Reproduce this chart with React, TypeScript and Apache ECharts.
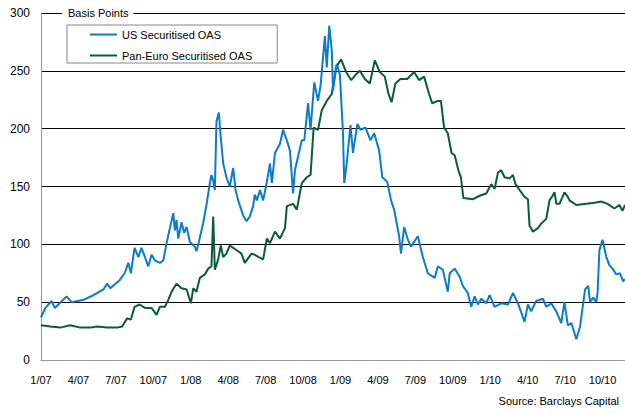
import React, { useEffect, useRef } from "react";
import * as echarts from "echarts";

// x positions: months since Jan 2007
const usMonths = [
  0, 0.35, 0.85, 1.1, 1.5, 2.05, 2.45, 3.4, 4.2, 5.0, 5.3, 5.55, 6.3, 6.7, 7.0, 7.2, 7.5, 7.8, 8.05,
  8.33, 8.6, 8.86, 9.13, 9.53, 9.8, 10.06, 10.33, 10.6, 10.73, 10.86, 11.0, 11.26, 11.47, 11.67, 11.93,
  12.33, 12.46, 12.65, 12.99, 13.26, 13.53, 13.66, 13.8, 13.93, 14.06, 14.25, 14.4, 14.6, 14.86, 15.13,
  15.4, 15.59, 15.8, 16.2, 16.47, 16.73, 17.0, 17.13,
  17.3, 17.55, 17.8, 18.1, 18.35, 18.5, 18.75, 19.15, 19.4, 19.7, 19.95, 20.2, 20.35, 20.6, 20.9, 21.1,
  21.4, 21.6, 21.9, 22.2, 22.4, 22.75, 22.9, 23.1, 23.3, 23.4, 23.7, 23.95, 24.2, 24.3, 24.5, 24.8, 25.0,
  25.35, 25.6, 26.0, 26.4, 26.7, 27.1, 27.35, 27.75, 28.05, 28.3, 28.7, 28.85, 29.1, 29.4, 29.65, 30.2,
  30.6, 31.0, 31.55, 31.8, 32.2, 32.6, 32.75, 33.15,
  33.55, 33.81, 34.2, 34.48, 34.75, 35.01, 35.28, 35.68, 35.95, 36.35, 36.88, 37.42, 37.82, 38.22, 38.49,
  38.75, 39.02, 39.28, 39.68, 40.22, 40.49, 40.89, 41.29, 41.69, 41.95, 42.22, 42.5, 42.9, 43.2, 43.6,
  43.85, 44.0, 44.25, 44.5, 44.6, 44.75, 45.0, 45.3, 45.55, 45.8, 46.1, 46.4, 46.65, 46.8,
];
const usValues = [
  37, 45, 51, 45, 49, 55, 50, 52, 56, 61, 66, 62, 69, 75, 84, 75, 97, 89, 97,
  89, 81, 91, 86, 84, 86, 101, 114, 127, 112, 121, 105, 119, 110, 115, 102,
  98, 94, 102, 118, 134, 153, 160, 155, 147, 206, 214, 193, 170, 158, 150,
  166, 147, 138, 125, 120, 124, 133, 143,
  138, 147, 138, 154, 170, 153, 179, 187, 199, 190, 181, 144, 164, 176, 190, 190,
  222, 199, 240, 224, 237, 280, 253, 289, 268, 233, 256, 247, 196, 153, 170, 203, 179,
  204, 199, 201, 190, 196, 181, 158, 154, 138, 130, 107, 92, 115, 104, 98, 107,
  89, 75, 71, 81, 78, 59, 75, 79,
  72, 64, 58, 46, 55, 48, 53, 49, 56, 46, 49, 48, 58, 49, 41,
  33, 48, 42, 51, 53, 46, 49, 42, 32, 50, 30, 32, 18, 29, 61,
  64, 50, 54, 50, 58, 95, 104, 89, 82, 79, 74, 75, 68, 70,
];

const euroMonths = [
  0, 0.75, 1.55, 2.35, 3.15, 3.95, 4.5, 5.3, 6.1, 6.5, 6.9, 7.2, 7.5, 7.9,
  8.33, 8.86, 9.26, 9.53, 9.93, 10.2, 10.46, 10.86, 11.26, 11.67, 12.01, 12.2, 12.46, 12.73, 13.13, 13.4,
  13.66, 13.8, 13.93, 14.2, 14.41, 14.6, 14.86, 15.13, 15.4, 15.8, 16.06, 16.33, 16.6, 16.87, 17.13,
  17.45, 17.8, 18.1, 18.35, 18.75, 19.15, 19.55, 19.7, 20.2, 20.5, 20.9, 21.3, 21.6, 21.85, 22.2, 22.5,
  22.9, 23.3, 23.65, 24.05, 24.45, 24.85, 25.25, 25.55, 25.95, 26.35, 26.75, 27.15, 27.55, 27.85, 28.1,
  28.4, 28.8, 29.35, 29.9, 30.3, 30.7, 31.1, 31.35, 31.8, 32.05, 32.3, 32.6, 32.9, 33.15, 33.45, 33.65, 33.85,
  34.62, 35.15, 35.68, 36.08, 36.35, 36.62, 36.88, 37.15, 37.55, 37.82, 38.03, 38.35, 38.75, 39.02, 39.15,
  39.42, 39.82, 40.09, 40.49, 40.75, 41.0, 41.15, 41.3, 41.55, 41.95, 42.22, 42.35, 42.9, 43.7, 44.35,
  44.9, 45.4, 45.95, 46.35, 46.6, 46.8,
];
const euroValues = [
  30, 29, 28, 30, 28, 28, 29, 28, 28, 29, 36, 35, 46, 48,
  45, 45, 39, 46, 46, 52, 59, 66, 62, 61, 49, 62, 59, 71, 74, 79,
  81, 124, 78, 87, 99, 89, 92, 99, 97, 94, 92, 84, 88, 92, 91,
  89, 87, 105, 101, 111, 105, 114, 133, 135, 130, 153, 158, 160, 201, 199, 216,
  224, 230, 253, 260, 249, 242, 247, 250, 243, 239, 259, 249, 245, 230, 223,
  239, 243, 243, 249, 242, 245, 230, 222, 224, 224, 201, 196, 179, 177, 164, 158, 140,
  139, 142, 144, 152, 148, 162, 164, 158, 157, 160, 152, 147, 141, 139, 116,
  111, 114, 118, 122, 138, 142, 145, 135, 135, 145, 141, 138, 134, 135, 136,
  137, 135, 131, 134, 129, 134,
];

const yTicks = [0, 50, 100, 150, 200, 250, 300];
const xTickLabels = [
  "1/07", "4/07", "7/07", "10/07", "1/08", "4/08", "7/08", "10/08",
  "1/09", "4/09", "7/09", "10/09", "1/10", "4/10", "7/10", "10/10",
];

const seriesNames = ["US Securitised OAS", "Pan-Euro Securitised OAS"];
const seriesColors = ["#0a7ccb", "#0b5c36"];
const FONT = "Liberation Sans, Arial, sans-serif";

export default function App() {
  const ref = useRef<HTMLDivElement>(null);
  useEffect(() => {
    if (!ref.current) return;
    const chart = echarts.init(ref.current, null, { renderer: "svg" });
    const usData = usMonths.map((m, i) => [m, usValues[i]]);
    const euroData = euroMonths.map((m, i) => [m, euroValues[i]]);
    chart.setOption({
      animation: false,
      backgroundColor: "#fff",
      textStyle: { fontFamily: FONT },
      grid: { left: 41, right: 0, top: 13, bottom: 54, containLabel: false },
      xAxis: {
        type: "value",
        min: 0,
        max: 46.8,
        interval: 3,
        axisLine: { show: true, lineStyle: { color: "#999", width: 1 } },
        axisTick: { show: false },
        splitLine: { show: false },
        axisLabel: {
          color: "#000",
          fontSize: 11,
          fontFamily: FONT,
          margin: 14,
          showMaxLabel: false,
          formatter: (v: number) => {
            const idx = Math.round(v / 3);
            if (Math.abs(v - idx * 3) > 0.01) return "";
            return xTickLabels[idx] ?? "";
          },
        },
      },
      yAxis: {
        type: "value",
        min: yTicks[0],
        max: yTicks[yTicks.length - 1],
        interval: 50,
        axisLine: { show: true, lineStyle: { color: "#999", width: 1 } },
        axisTick: { show: false },
        splitLine: { show: true, lineStyle: { color: "#000", width: 1 } },
        axisLabel: { color: "#000", fontSize: 12, fontFamily: FONT, margin: 11 },
      },
      legend: {
        data: seriesNames.map((n) => ({ name: n, icon: "rect" })),
        orient: "vertical",
        left: 67,
        top: 25,
        itemWidth: 27,
        itemHeight: 2,
        itemGap: 10,
        padding: [4, 25, 2, 23],
        borderColor: "#888",
        borderWidth: 1,
        backgroundColor: "#fff",
        textStyle: { color: "#000", fontSize: 11, fontFamily: FONT },
      },
      graphic: [
        {
          type: "text",
          left: 62,
          top: 6,
          z: 100,
          style: {
            text: "Basis Points",
            fill: "#000",
            font: `11px ${FONT}`,
            backgroundColor: "#fff",
            padding: [1, 5, 1, 6],
          },
        },
        {
          type: "text",
          right: 6,
          top: 395,
          style: {
            text: "Source: Barclays Capital",
            fill: "#000",
            font: `11px ${FONT}`,
          },
        },
      ],
      series: [
        {
          name: seriesNames[0],
          type: "line",
          data: usData,
          symbol: "none",
          lineStyle: { color: seriesColors[0], width: 2 },
          itemStyle: { color: seriesColors[0] },
          z: 3,
        },
        {
          name: seriesNames[1],
          type: "line",
          data: euroData,
          symbol: "none",
          lineStyle: { color: seriesColors[1], width: 2 },
          itemStyle: { color: seriesColors[1] },
          z: 2,
        },
      ],
    });
    return () => chart.dispose();
  }, []);
  return <div ref={ref} style={{ width: 625, height: 414, position: "absolute", left: 0, top: 0 }} />;
}
